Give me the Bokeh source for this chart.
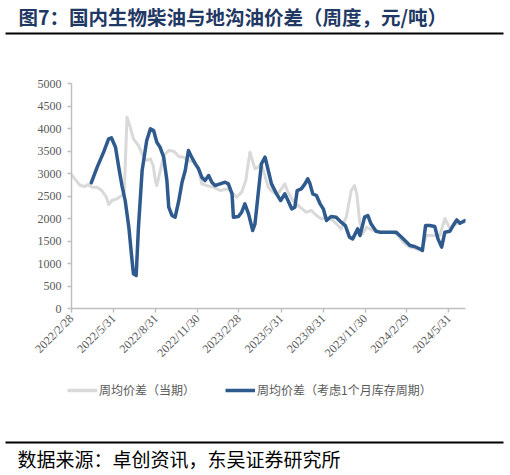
import math
import pandas as pd
from bokeh.plotting import figure
from bokeh.models import (Range1d, FixedTicker, SingleIntervalTicker, Legend, LegendItem,
                          ColumnDataSource)
from bokeh.layouts import column
from bokeh.embed import file_html
from bokeh.resources import INLINE
from bokeh.core.properties import value

title_text = "图7：国内生物柴油与地沟油价差（周度，元/吨）"
source_text = "数据来源：卓创资讯，东吴证券研究所"
series_names = ["周均价差（当期）", "周均价差（考虑1个月库存周期）"]

origin = "2022-02-28"
x_end_date = "2024-07-06"
tick_dates = ["2022-02-28", "2022-05-31", "2022-08-31", "2022-11-30", "2023-02-28",
              "2023-05-31", "2023-08-31", "2023-11-30", "2024-02-29", "2024-05-31"]
tick_labels = ["2022/2/28", "2022/5/31", "2022/8/31", "2022/11/30", "2023/2/28",
               "2023/5/31", "2023/8/31", "2023/11/30", "2024/2/29", "2024/5/31"]

spot_dates = ["2022-02-28", "2022-03-19", "2022-03-30", "2022-04-04", "2022-04-14", "2022-04-25",
              "2022-05-05", "2022-05-15", "2022-05-20", "2022-05-27", "2022-06-07", "2022-06-18",
              "2022-06-23", "2022-06-29", "2022-07-06", "2022-07-13", "2022-07-24", "2022-08-04",
              "2022-08-11", "2022-08-19", "2022-08-25", "2022-08-30", "2022-09-02", "2022-09-08",
              "2022-09-17", "2022-09-28", "2022-10-09", "2022-10-20", "2022-10-31", "2022-11-10",
              "2022-11-21", "2022-12-02", "2022-12-09", "2022-12-20", "2023-01-03", "2023-01-18",
              "2023-02-02", "2023-02-13", "2023-02-23", "2023-03-06", "2023-03-15", "2023-03-24",
              "2023-04-04", "2023-04-11", "2023-04-18", "2023-05-03", "2023-05-13", "2023-05-24",
              "2023-06-08", "2023-06-15", "2023-06-26", "2023-07-11", "2023-07-25", "2023-08-05",
              "2023-08-16", "2023-08-27", "2023-09-06", "2023-09-21", "2023-10-02", "2023-10-09",
              "2023-10-20", "2023-10-31", "2023-11-07", "2023-11-12", "2023-11-18", "2023-11-25",
              "2023-12-03", "2023-12-17", "2024-01-01", "2024-01-30", "2024-02-10", "2024-02-21",
              "2024-03-07", "2024-03-21", "2024-04-01", "2024-04-12", "2024-05-11", "2024-05-22",
              "2024-06-02", "2024-06-17", "2024-07-05"]
spot_values = [2970, 2733, 2711, 2755, 2696, 2696,
               2622, 2474, 2311, 2400, 2437, 2511,
               2585, 4252, 4030, 3770, 3622, 3363,
               3289, 3326, 3178, 2844, 2733, 2993,
               3400, 3511, 3496, 3378, 3363, 3289,
               3252, 3104, 2770, 2733, 2696, 2622,
               2659, 2585, 2474, 2585, 2844, 3474,
               3104, 3141, 3215, 2696, 2585, 2548,
               2770, 2585, 2400, 2252, 2140, 2178,
               2067, 1993, 2030, 1956, 1844, 1770,
               2030, 2622, 2733, 2548, 1956, 1659,
               1807, 1733, 1696, 1696, 1622, 1474,
               1363, 1326, 1304, 1622, 1622, 2000,
               1780, 1890, 1920]

lag_dates = ["2022-04-12", "2022-04-25", "2022-05-09", "2022-05-20", "2022-05-26", "2022-06-04",
             "2022-06-11", "2022-06-18", "2022-06-25", "2022-07-03", "2022-07-10", "2022-07-13",
             "2022-07-19", "2022-07-24", "2022-08-01", "2022-08-11", "2022-08-19", "2022-08-26",
             "2022-09-02", "2022-09-09", "2022-09-17", "2022-09-24", "2022-09-28", "2022-10-05",
             "2022-10-12", "2022-10-20", "2022-10-27", "2022-11-03", "2022-11-10", "2022-11-17",
             "2022-11-25", "2022-12-02", "2022-12-09", "2022-12-16", "2022-12-24", "2022-12-31",
             "2023-01-07", "2023-01-18", "2023-01-29", "2023-02-05", "2023-02-13", "2023-02-16",
             "2023-02-27", "2023-03-06", "2023-03-13", "2023-03-21", "2023-03-30", "2023-04-04",
             "2023-04-11", "2023-04-18", "2023-04-26", "2023-05-03", "2023-05-10", "2023-05-21",
             "2023-05-30", "2023-06-08", "2023-06-15", "2023-06-23", "2023-06-30", "2023-07-05",
             "2023-07-14", "2023-07-22", "2023-07-28", "2023-08-02", "2023-08-08", "2023-08-16",
             "2023-08-24", "2023-08-31", "2023-09-07", "2023-09-17", "2023-09-28", "2023-10-09",
             "2023-10-18", "2023-10-27", "2023-11-03", "2023-11-14", "2023-11-19", "2023-11-29",
             "2023-12-06", "2023-12-13", "2023-12-24", "2024-01-01", "2024-02-06", "2024-02-21",
             "2024-03-07", "2024-03-17", "2024-03-28", "2024-04-03", "2024-04-10", "2024-04-19",
             "2024-04-30", "2024-05-07", "2024-05-15", "2024-05-22", "2024-06-02", "2024-06-09",
             "2024-06-17", "2024-06-24", "2024-07-05"]
lag_values = [2793, 3141, 3474, 3770, 3793, 3585,
              3141, 2733, 2400, 1807, 1067, 770,
              733, 1807, 3067, 3733, 3993, 3956,
              3696, 3585, 3363, 2844, 2252, 2067,
              2030, 2400, 2807, 3067, 3511, 3363,
              3215, 3104, 2918, 2844, 2955, 2807,
              2733, 2770, 2807, 2770, 2548, 2030,
              2044, 2140, 2326, 2104, 1733, 1881,
              2548, 3215, 3363, 3067, 2770, 2548,
              2400, 2548, 2400, 2215, 2252, 2622,
              2659, 2770, 2881, 2770, 2548, 2511,
              2326, 2215, 1956, 2044, 2030, 1918,
              1844, 1585, 1548, 1770, 1622, 2030,
              2067, 1881, 1718, 1696, 1696, 1548,
              1400, 1378, 1326, 1289, 1844, 1844,
              1822, 1548, 1363, 1696, 1718, 1844,
              1970, 1896, 1956]

y_max = 5000
y_step = 500

GRAY = "#D9D9D9"
BLUE = "#2E5A8E"
TXT = "#595959"
AXIS = "#BFBFBF"
NAVY = "#1F3864"

o = pd.Timestamp(origin)


def days(ds):
    return [(pd.Timestamp(d) - o).days for d in ds]


W = 508
HH, MH, FH = 40, 330, 103

# header figure (top-down pixel coordinates)
hdr = figure(width=W, height=HH, output_backend="svg", toolbar_location=None,
             x_range=Range1d(0, W), y_range=Range1d(HH, 0),
             x_axis_type=None, y_axis_type=None, min_border=0, outline_line_color=None,
             frame_align=False)
hdr.grid.visible = False
hdr.text(x=[18], y=[16], text=[title_text], text_font=value("Noto Sans CJK SC"),
         text_font_style="bold", text_font_size="19.5px", text_color=NAVY,
         text_baseline="middle", text_align="left")
hdr.segment(x0=[5], y0=[33], x1=[503], y1=[33], line_color="black", line_width=2)

# main chart
p = figure(width=W, height=MH, output_backend="svg", toolbar_location=None,
           x_range=Range1d(0, (pd.Timestamp(x_end_date) - o).days),
           y_range=Range1d(0, y_max),
           min_border_left=71, min_border_right=W - 465, min_border_top=43,
           min_border_bottom=MH - 43 - 225,
           outline_line_color=None, frame_align=False)
p.grid.visible = False

src_spot = ColumnDataSource(dict(x=days(spot_dates), y=spot_values))
src_lag = ColumnDataSource(dict(x=days(lag_dates), y=lag_values))
r1 = p.line("x", "y", source=src_spot, line_color=GRAY, line_width=3, line_join="round", line_cap="round")
r2 = p.line("x", "y", source=src_lag, line_color=BLUE, line_width=3.5, line_join="round", line_cap="round")

p.yaxis.ticker = SingleIntervalTicker(interval=y_step)
tick_x = days(tick_dates)
p.xaxis.ticker = FixedTicker(ticks=tick_x)
p.xaxis.major_label_overrides = {t: l for t, l in zip(tick_x, tick_labels)}
p.xaxis.major_label_orientation = math.pi / 4

for ax in (p.xaxis[0], p.yaxis[0]):
    ax.axis_line_color = AXIS
    ax.axis_line_width = 1.5
    ax.major_tick_line_color = AXIS
    ax.major_tick_line_width = 1.5
    ax.major_tick_out = 4
    ax.major_tick_in = 0
    ax.minor_tick_line_color = None
    ax.major_label_text_font = "Liberation Serif"
    ax.major_label_text_font_size = "12px"
    ax.major_label_text_color = TXT
p.yaxis.major_label_standoff = 6
p.xaxis.major_label_standoff = 4

# footer figure: legend, rule and source (top-down pixel coordinates)
ftr = figure(width=W, height=FH, output_backend="svg", toolbar_location=None,
             x_range=Range1d(0, W), y_range=Range1d(FH, 0),
             x_axis_type=None, y_axis_type=None, min_border=0, outline_line_color=None,
             frame_align=False)
ftr.grid.visible = False
nan = float("nan")
k1 = ftr.line(x=[nan, nan], y=[nan, nan], line_color=GRAY, line_width=3.5)
k2 = ftr.line(x=[nan, nan], y=[nan, nan], line_color=BLUE, line_width=3.5)
legend = Legend(items=[LegendItem(label=series_names[0], renderers=[k1]),
                       LegendItem(label=series_names[1], renderers=[k2])],
                orientation="horizontal", location=(67, FH - 28),
                glyph_width=30, glyph_height=12, label_standoff=2, spacing=30,
                padding=0, margin=0, border_line_color=None, background_fill_alpha=0,
                label_text_font="Noto Sans CJK SC", label_text_font_size="12px",
                label_text_color=TXT)
ftr.add_layout(legend, "center")
ftr.segment(x0=[5], y0=[72], x1=[503], y1=[72], line_color="black", line_width=2)
ftr.text(x=[17], y=[88], text=[source_text], text_font=value("Noto Sans CJK SC"),
         text_font_size="19px", text_color="black", text_baseline="middle", text_align="left")

layout = column(hdr, p, ftr, spacing=0)
open("out.html", "w").write(file_html(layout, INLINE))
